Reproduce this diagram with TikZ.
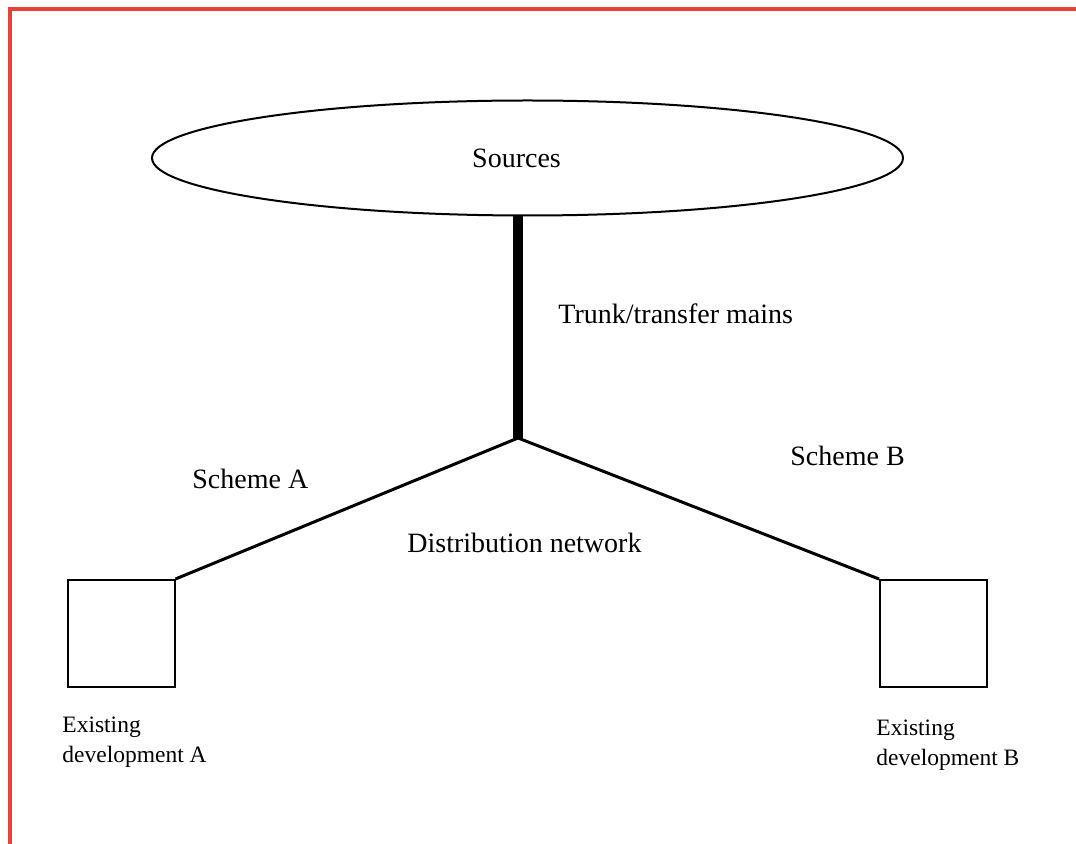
\documentclass[tikz,border=0pt]{standalone}
\usepackage{fontspec}
\setmainfont{Liberation Serif}
\usetikzlibrary{positioning,shapes.geometric}
\definecolor{frame}{RGB}{232,65,55}

\begin{document}
\begin{tikzpicture}[
  x=0.5pt, y=-0.5pt,
  txt/.style={inner sep=0pt,font=\fontsize{14}{17}\selectfont},
  small/.style={inner sep=0pt,align=left,font=\fontsize{11.75}{15}\selectfont},
  src/.style={draw,ellipse,line width=1pt,minimum width=375.5pt,minimum height=57.5pt},
  dev/.style={draw,rectangle,line width=1pt,minimum size=53.5pt},
  pipe/.style={line width=1.5pt},
  trunk/.style={line width=5pt}
]
\useasboundingbox (0,0) rectangle (1076,844);
\draw[frame,line width=2pt] (10,844) -- (10,9) -- (1076,9);
\node[src,label={[txt,xshift=-5.5pt]center:Sources}] (sources) at (527.5,158) {};
\coordinate (junc) at (518,438);
\node[dev] (devA) at (121,633.5) {};
\node[dev] (devB) at (933.5,633.5) {};
\draw[trunk] (sources.south -| junc) -- (junc);
\draw[pipe] (devA.north east) -- (junc) -- (devB.north west);
\node[txt,anchor=base west] (trunklbl) at (558,324) {Trunk/transfer mains};
\node[txt,anchor=base west] (schA) at (192,488) {Scheme A};
\node[txt,anchor=base west] (schB) at (790,466) {Scheme B};
\node[txt,anchor=base west] (distr) at (407,552) {Distribution network};
\node[small,anchor=north west] (lblA) at (62,717) {Existing\\development A};
\node[small,anchor=north west] (lblB) at (876,720) {Existing\\development B};
\end{tikzpicture}
\end{document}
